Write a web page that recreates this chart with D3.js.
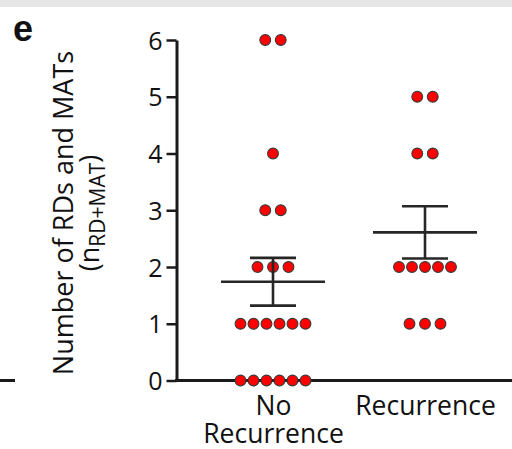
<!DOCTYPE html>
<html>
<head>
<meta charset="utf-8">
<script src="https://cdn.jsdelivr.net/npm/d3@7"></script>
<style>
  html, body { margin: 0; padding: 0; background: #fff; }
  svg { display: block; font-family: "Open Sans", "Liberation Sans", sans-serif; }
</style>
</head>
<body>
<svg id="chart" width="512" height="449"></svg>
<script>
// ---- data ----
const categories = ["No Recurrence", "Recurrence"];
const categoryLines = [["No", "Recurrence"], ["Recurrence"]];
const noRecurrenceValues = [6, 6, 4, 3, 3, 2, 2, 2, 1, 1, 1, 1, 1, 1, 0, 0, 0, 0, 0, 0];
const recurrenceValues = [5, 5, 4, 4, 2, 2, 2, 2, 2, 1, 1, 1];
const meanValues = [1.74, 2.61];
const semValues = [0.42, 0.46];
const yTicks = [0, 1, 2, 3, 4, 5, 6];

const seriesValues = [noRecurrenceValues, recurrenceValues];

const svg = d3.select("#chart");
const W = 512, H = 449;

// top grey band (page strip)
svg.append("rect").attr("x", 0).attr("y", 0).attr("width", W).attr("height", 7).attr("fill", "#e6e6e6");

// panel letter
svg.append("text").attr("x", 13).attr("y", 41)
  .attr("font-family", "'Liberation Sans', Arial, sans-serif")
  .attr("font-weight", "bold").attr("font-size", 36).attr("fill", "#111").text("e");

// left stub of neighbouring panel
svg.append("line").attr("x1", 0).attr("x2", 15).attr("y1", 380.5).attr("y2", 380.5)
  .attr("stroke", "#1a1a1a").attr("stroke-width", 3);

const axisX = 176.5;
const y = d3.scaleLinear().domain([0, 6]).range([380.5, 40]);
const x = d3.scalePoint().domain(categories).range([273, 425]);

// y axis
const yAxis = svg.append("g").attr("transform", `translate(${axisX},0)`)
  .call(d3.axisLeft(y).tickValues(yTicks).tickSize(10).tickSizeOuter(0).tickPadding(4).tickFormat(d3.format("d")));
yAxis.select(".domain").attr("stroke", "#1a1a1a").attr("stroke-width", 3);
yAxis.selectAll(".tick line").attr("stroke", "#1a1a1a").attr("stroke-width", 2.5);
yAxis.selectAll(".tick text").attr("font-size", 25).attr("fill", "#111")
  .attr("font-family", "'Open Sans', sans-serif").attr("dy", "0.36em");

// x axis line
svg.append("line").attr("x1", axisX - 1.5).attr("x2", W).attr("y1", y(0)).attr("y2", y(0))
  .attr("stroke", "#1a1a1a").attr("stroke-width", 3);

// x category labels
const xAxis = svg.append("g").attr("transform", `translate(0,${y(0)})`)
  .call(d3.axisBottom(x).tickSize(0).tickPadding(0));
xAxis.select(".domain").remove();
xAxis.selectAll(".tick text").each(function(d, i) {
  const t = d3.select(this);
  t.text(null).attr("font-size", 26.5).attr("fill", "#111").attr("y", 0).attr("dy", null)
    .attr("font-family", "'Open Sans', sans-serif");
  categoryLines[i].forEach((ln, j) => {
    t.append("tspan").attr("x", 0).attr("y", 34 + j * 28).text(ln);
  });
});

// y axis title
const title = svg.append("g").attr("transform", "translate(0,213) rotate(-90)");
title.append("text").attr("x", 0).attr("y", 73).attr("text-anchor", "middle")
  .attr("font-size", 27).attr("fill", "#111").text("Number of RDs and MATs");
const t2 = title.append("text").attr("x", 0).attr("y", 99).attr("text-anchor", "middle")
  .attr("font-size", 27).attr("fill", "#111");
t2.append("tspan").text("(n");
t2.append("tspan").attr("font-size", 21).attr("dy", 6).text("RD+MAT");
t2.append("tspan").attr("dy", -6).text(")");

// dots (beeswarm by value level)
const dotR = 5.4;
seriesValues.forEach((vals, ci) => {
  const cx = x(categories[ci]);
  const groups = d3.groups(vals, v => v);
  const pts = [];
  groups.forEach(([v, arr]) => {
    const n = arr.length;
    const step = n >= 5 ? 13 : 15.5;
    arr.forEach((vv, k) => pts.push({ v: vv, dx: (k - (n - 1) / 2) * step }));
  });
  svg.append("g").selectAll("circle").data(pts).join("circle")
    .attr("cx", d => cx + d.dx).attr("cy", d => y(d.v)).attr("r", dotR)
    .attr("fill", "#ff0000").attr("stroke", "#3a3a3a").attr("stroke-width", 1.1);
});

// mean ± SEM
const eb = svg.append("g").attr("stroke", "#262626").attr("stroke-width", 2.6).attr("fill", "none");
categories.forEach((c, i) => {
  const cx = x(c), m = meanValues[i], s = semValues[i];
  eb.append("line").attr("x1", cx).attr("x2", cx).attr("y1", y(m + s)).attr("y2", y(m - s));
  eb.append("line").attr("x1", cx - 23).attr("x2", cx + 23).attr("y1", y(m + s)).attr("y2", y(m + s));
  eb.append("line").attr("x1", cx - 23).attr("x2", cx + 23).attr("y1", y(m - s)).attr("y2", y(m - s));
  eb.append("line").attr("x1", cx - 52).attr("x2", cx + 52).attr("y1", y(m)).attr("y2", y(m));
});
</script>
</body>
</html>
